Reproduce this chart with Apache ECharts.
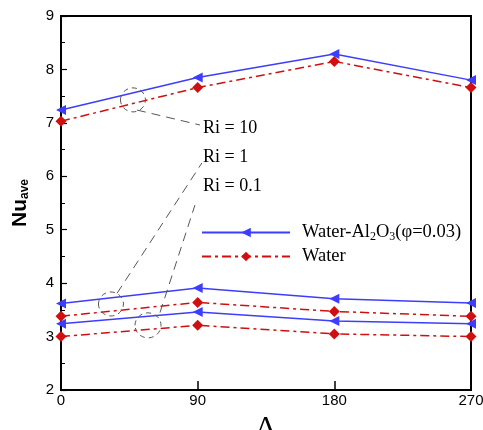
<!DOCTYPE html>
<html><head><meta charset="utf-8">
<script src="https://cdn.jsdelivr.net/npm/echarts@6/dist/echarts.min.js"></script>
<style>html,body{margin:0;padding:0;background:#fff}#c{width:483px;height:430px}</style>
</head><body><div id="c"></div>
<script>
var lambdaVals = [0, 90, 180, 270];
var yTicks = [2, 3, 4, 5, 6, 7, 8, 9];
var nanoRi10 = [7.24, 7.85, 8.29, 7.80];
var waterRi10 = [7.03, 7.66, 8.15, 7.66];
var nanoRi1 = [3.62, 3.91, 3.71, 3.63];
var waterRi1 = [3.38, 3.64, 3.47, 3.38];
var nanoRi01 = [3.24, 3.46, 3.29, 3.24];
var waterRi01 = [3.00, 3.21, 3.05, 3.00];
var riLabels = ['Ri = 10', 'Ri = 1', 'Ri = 0.1'];
// annotation anchors in data coordinates
var ellipseCenters = [[47.4, 7.43], [32.9, 3.61], [57.3, 3.21]];
var leaderLines = [[[50, 7.24], [91.5, 6.96]], [[36.9, 3.81], [92.8, 6.25]], [[65.2, 3.45], [88.2, 5.46]]];
var labelAnchors = [[93.5, 6.9], [93.5, 6.36], [93.5, 5.82]];

var BLUE = '#3d3dff', RED = '#d01010';
function zip(v){ return lambdaVals.map(function(x,i){return [x, v[i]];}); }
function nano(d){ return {name:'nano', type:'line', data:zip(d), symbol:'triangle', symbolRotate:90, symbolSize:10,
  lineStyle:{color:BLUE, width:1.5}, itemStyle:{color:BLUE}, z:3}; }
function water(d){ return {name:'water', type:'line', data:zip(d), symbol:'diamond', symbolSize:11,
  lineStyle:{color:RED, width:1.5, type:[9,4,3,4]}, itemStyle:{color:RED}, z:2}; }

var chart = echarts.init(document.getElementById('c'));
var option = {
  animation:false,
  grid:{left:61, right:12, top:16, bottom:40, show:true, borderColor:'#000', borderWidth:2,
    containLabel:false, outerBoundsMode:'none'},
  legend:{data:['nano','water'], left:196, top:218, orient:'vertical', itemWidth:88, itemHeight:12, itemGap:4,
    formatter:function(n){ return n==='nano' ? 'Water-Al{s|2}O{s|3}(φ=0.03)' : 'Water'; },
    textStyle:{fontFamily:'Liberation Serif', fontSize:18.5, color:'#000', padding:[0,0,0,7],
      rich:{s:{fontFamily:'Liberation Serif', fontSize:12, color:'#000', padding:[9,0,0,0]}}}},
  xAxis:{type:'value', min:0, max:270, interval:90,
    name:'Λ', nameLocation:'middle', nameGap:7,
    nameTextStyle:{fontFamily:'Liberation Serif', fontSize:30, color:'#000', verticalAlign:'top'},
    axisLine:{lineStyle:{color:'#000', width:2}},
    axisTick:{inside:true, length:9, lineStyle:{color:'#000', width:1.5}},
    axisLabel:{fontFamily:'Liberation Sans', fontSize:15, color:'#000', margin:3},
    splitLine:{show:false}},
  yAxis:{type:'value', min:2, max:9, interval:1,
    name:'{a|Nu}{b|ave}', nameLocation:'middle', nameGap:30, nameRotate:90,
    nameTextStyle:{rich:{a:{fontFamily:'Liberation Sans', fontWeight:'bold', fontSize:21, color:'#000'},
      b:{fontFamily:'Liberation Sans', fontWeight:'bold', fontSize:12, color:'#000', padding:[10,0,0,0]}}},
    axisLine:{lineStyle:{color:'#000', width:2}},
    axisTick:{inside:true, length:6, lineStyle:{color:'#000', width:1.2}},
    minorTick:{show:true, splitNumber:2, length:4, lineStyle:{color:'#000', width:1}},
    axisLabel:{fontFamily:'Liberation Sans', fontSize:15, color:'#000', margin:7},
    splitLine:{show:false}},
  series:[nano(nanoRi10), water(waterRi10), nano(nanoRi1), water(waterRi1), nano(nanoRi01), water(waterRi01)]
};
chart.setOption(option);

function px(p){ return chart.convertToPixel({gridIndex:0}, p); }
var els = [];
var sizes = [[12.5,12],[12.5,12],[13,12.5]];
ellipseCenters.forEach(function(c,i){
  var p = px(c);
  els.push({type:'ellipse', shape:{cx:p[0], cy:p[1], rx:sizes[i][0], ry:sizes[i][1]},
    style:{fill:null, stroke:'#555', lineWidth:1, lineDash:[5,4]}, z:10});
});
leaderLines.forEach(function(l){
  var a = px(l[0]), b = px(l[1]);
  els.push({type:'line', shape:{x1:a[0], y1:a[1], x2:b[0], y2:b[1]},
    style:{stroke:'#555', lineWidth:1, lineDash:[9,6]}, z:10});
});
riLabels.forEach(function(t,i){
  var p = px(labelAnchors[i]);
  els.push({type:'text', x:p[0], y:p[1], style:{text:t, fontFamily:'Liberation Serif', fontSize:18, fill:'#000',
    textVerticalAlign:'middle', verticalAlign:'middle'}, z:10});
});
chart.setOption({graphic:{elements:els}});
</script></body></html>
